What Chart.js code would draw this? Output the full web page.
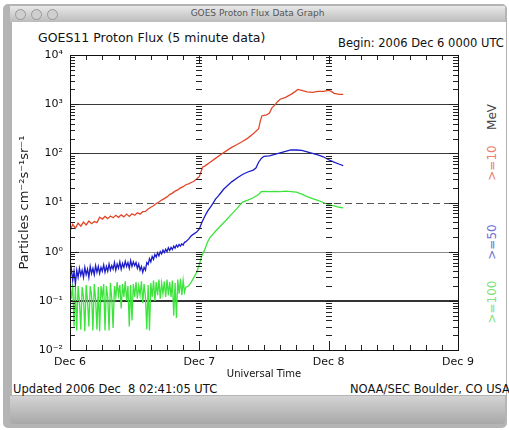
<!DOCTYPE html>
<html>
<head>
<meta charset="utf-8">
<title>GOES Proton Flux Data Graph</title>
<script src="https://cdn.jsdelivr.net/npm/chart.js@4.4.0/dist/chart.umd.min.js"></script>
<style>
html, body { margin: 0; padding: 0; background: #fff; }
#win { position: absolute; left: 0; top: 0; width: 509px; height: 430px; overflow: hidden; font-family: "DejaVu Sans", sans-serif; }
#frame { position: absolute; left: 3px; top: 4px; width: 504px; height: 424px; background: #b4b4b4; border-radius: 5px; }
#titlebar { position: absolute; left: 10px; top: 6px; width: 495px; height: 16px; background: linear-gradient(#e8e8e8, #bcbcbc); }
.dot { position: absolute; top: 3px; width: 9px; height: 9px; border-radius: 50%; background: #cfcfcf; border: 1px solid #9a9a9a; }
#titletext { position: absolute; left: 0; right: 0; top: 2px; text-align: center; font-size: 9px; color: #555; }
#content { position: absolute; left: 12px; top: 22px; width: 494px; height: 373px; background: #fff; }
#bottom { position: absolute; left: 10px; top: 396px; width: 495px; height: 28px; background: linear-gradient(#d4d4d4, #a8a8a8); border-radius: 0 0 4px 4px; }
.txt { position: absolute; white-space: pre; color: #111; }
.rot { position: absolute; white-space: pre; font-size: 12px; transform: translate(-50%, -50%) rotate(-90deg); }
canvas { position: absolute; left: 0; top: 0; }
</style>
</head>
<body>
<div id="win">
  <div id="frame"></div>
  <div id="titlebar">
    <div class="dot" style="left:5px"></div>
    <div class="dot" style="left:21px"></div>
    <div class="dot" style="left:37px"></div>
    <div id="titletext">GOES Proton Flux Data Graph</div>
  </div>
  <div id="content"></div>
  <div id="bottom"></div>

  <div class="txt" style="left:38px; top:30px; font-size:12.5px;">GOES11 Proton Flux (5 minute data)</div>
  <div class="txt" style="left:338px; top:36px; font-size:11.5px;">Begin: 2006 Dec 6 0000 UTC</div>
  <div class="txt" style="left:13px; top:382px; font-size:11.5px;">Updated 2006 Dec  8 02:41:05 UTC</div>
  <div class="txt" style="left:350px; top:382px; font-size:11.5px;">NOAA/SEC Boulder, CO USA</div>

  <div class="rot" style="left:492px; top:117px; color:#444;">MeV</div>
  <div class="rot" style="left:492px; top:163px; color:#e8806c;">&gt;=10</div>
  <div class="rot" style="left:492px; top:242px; color:#6f6fd6;">&gt;=50</div>
  <div class="rot" style="left:492px; top:302px; color:#7fe07f;">&gt;=100</div>

  <canvas id="goesChart" width="509" height="430"></canvas>
</div>

<script>
// axis labels
var dayHours = [0, 24, 48, 72];
var dayLabels = ['Dec 6', 'Dec 7', 'Dec 8', 'Dec 9'];
var yTickVals = [0.01, 0.1, 1, 10, 100, 1000, 10000];
var yTickLabels = ['10\u207B\u00B2', '10\u207B\u00B9', '10\u2070', '10\u00B9', '10\u00B2', '10\u00B3', '10\u2074'];

// hours after 2006 Dec 6 00:00 UTC
var noisyHours = [0, 0.25, 0.5, 0.75, 1, 1.25, 1.5, 1.75, 2, 2.25, 2.5, 2.75, 3, 3.25, 3.5, 3.75,
    4, 4.25, 4.5, 4.75, 5, 5.25, 5.5, 5.75, 6, 6.25, 6.5, 6.75, 7, 7.25, 7.5, 7.75,
    8, 8.25, 8.5, 8.75, 9, 9.25, 9.5, 9.75, 10, 10.25, 10.5, 10.75, 11, 11.25, 11.5, 11.75,
    12, 12.25, 12.5, 12.75, 13, 13.25, 13.5, 13.75, 14, 14.25, 14.5, 14.75, 15, 15.25, 15.5, 15.75,
    16, 16.25, 16.5, 16.75, 17, 17.25, 17.5, 17.75, 18, 18.25, 18.5, 18.75, 19, 19.25, 19.5, 19.75,
    20, 20.25, 20.5, 20.75, 21, 21.25];

// >=10 MeV
var redHours = [0, 0.5, 1, 1.5, 2, 2.5, 3, 3.5, 4, 4.5, 5, 5.5, 6, 6.5, 7, 7.5, 8, 8.5, 9, 9.5,
    10, 10.5, 11, 11.5, 12, 12.5, 13, 13.5, 14, 14.5, 15, 15.5, 16, 16.5, 17, 17.5, 18, 18.5, 19, 19.5,
    20, 20.5, 21, 21.5, 22, 22.5, 23, 23.5, 24, 24.3, 24.6, 25, 26, 27, 28, 29, 30, 31, 32, 33, 34, 35,
    35.3, 35.6, 36, 36.5, 37, 37.5, 38, 38.5, 39, 40, 41, 41.7, 42.3, 43, 44, 45, 46, 47, 48, 48.5, 49, 50, 50.7];
var redFlux = [2.6, 3.6, 3.0, 3.8, 3.3, 4.0, 3.5, 4.2, 3.7, 4.1, 3.9, 5.0, 4.6, 5.2, 4.7, 5.3, 4.9, 5.5, 5.0, 5.6,
    5.1, 5.8, 5.2, 5.9, 5.5, 6.2, 5.8, 6.5, 6.6, 7.4, 8.0, 8.6, 9.5, 10.2, 11.2, 12.0, 13.0, 14.5, 15.5, 17.0,
    18.0, 19.8, 21.0, 23.0, 24.0, 25.5, 27.0, 30.0, 34.0, 42, 52, 55, 66, 79, 95, 112, 132, 151, 174, 204, 251, 316,
    447, 575, 589, 603, 661, 851, 955, 1122, 1259, 1380, 1585, 1778, 1995, 1905, 1778, 1738, 1820, 1820, 1905, 1820, 1660, 1585, 1585];

// >=50 MeV
var blueNoisy = [0.3, 0.45, 0.26, 0.4, 0.22, 0.42, 0.3, 0.46, 0.33,
    0.42, 0.3, 0.48, 0.34, 0.44, 0.3, 0.5, 0.36,
    0.46, 0.34, 0.52, 0.38, 0.5, 0.36, 0.48, 0.4,
    0.54, 0.38, 0.5, 0.4, 0.56, 0.42, 0.52, 0.44,
    0.6, 0.42, 0.56, 0.46, 0.62, 0.44, 0.58, 0.48,
    0.64, 0.5, 0.6, 0.46, 0.66, 0.5, 0.62, 0.52,
    0.6, 0.46, 0.56, 0.42, 0.5, 0.38, 0.48, 0.42,
    0.6, 0.55, 0.72, 0.62, 0.8, 0.7, 0.88, 0.78,
    0.95, 0.82, 1.0, 0.9, 1.08, 0.96, 1.12, 1.0,
    1.2, 1.06, 1.22, 1.1, 1.3, 1.18, 1.36, 1.24,
    1.4, 1.3, 1.45, 1.36, 1.55];
var blueHours2 = [21.5, 22, 22.5, 23, 23.5, 24, 24.5, 25, 25.5, 26, 26.5, 27, 27.5, 28, 28.5, 29, 30, 31, 32, 33, 34,
    34.5, 35, 35.5, 36, 37, 38, 39, 40, 41, 42, 43, 44, 45, 46, 47, 48, 49, 50, 50.7];
var blueFlux2 = [1.6, 1.8, 2.1, 2.3, 2.5, 2.9, 4.0, 5.2, 6.6, 7.9, 9.5, 11.7, 13.5, 15.8, 18.6, 20.9, 26.3, 31.6, 37.2, 41.7, 45.7,
    50, 66, 79, 87, 89, 95, 102, 110, 117, 117, 115, 107, 100, 93, 85, 74, 66, 60, 56];

// >=100 MeV
var greenNoisy = [0.2, 0.11, 0.22, 0.03, 0.18, 0.025, 0.2, 0.1, 0.026, 0.19, 0.12, 0.024, 0.21, 0.1, 0.03, 0.2,
    0.13, 0.025, 0.22, 0.11, 0.026, 0.19, 0.024, 0.2, 0.12, 0.22, 0.025, 0.2, 0.12, 0.025, 0.23, 0.11,
    0.028, 0.2, 0.12, 0.24, 0.13, 0.21, 0.07, 0.22, 0.12, 0.25, 0.1, 0.2, 0.03, 0.21, 0.04, 0.22,
    0.12, 0.24, 0.11, 0.2, 0.13, 0.25, 0.09, 0.22, 0.12, 0.026, 0.21, 0.025, 0.23, 0.12, 0.26, 0.1,
    0.24, 0.13, 0.27, 0.11, 0.23, 0.14, 0.25, 0.12, 0.27, 0.13, 0.24, 0.12, 0.26, 0.05, 0.23, 0.045,
    0.27, 0.14, 0.28, 0.13, 0.26, 0.15];
var greenHours2 = [21.5, 22, 22.5, 23, 23.5, 24, 24.5, 25, 25.5, 26, 27, 28, 29, 30, 31, 32, 33, 34, 35, 35.5,
    36, 37, 38, 39, 40, 41, 42, 43, 44, 45, 46, 47, 48, 49, 50, 50.7];
var greenFlux2 = [0.19, 0.2, 0.24, 0.3, 0.38, 0.55, 0.85, 1.1, 1.55, 1.95, 2.6, 3.4, 4.4, 5.8, 7.6, 10.2, 11.2, 12.5, 14.5, 16.6,
    16.8, 16.6, 16.8, 16.6, 17.0, 16.6, 16.2, 14.8, 13.2, 12.0, 11.0, 10.0, 9.0, 8.5, 8.0, 7.8];

var FONT = '"DejaVu Sans", sans-serif';

// horizontal reference lines
var levelLines = [
    { value: 1000, color: '#3a3a3a', width: 1, dash: [] },
    { value: 100, color: '#3a3a3a', width: 1, dash: [] },
    { value: 10, color: '#555', width: 1, dash: [7, 4] },
    { value: 1, color: '#8a8a8a', width: 1, dash: [] },
    { value: 0.1, color: '#333', width: 2, dash: [] }
];

function toPoints(hours, flux) {
    return hours.map(function (h, i) { return { x: h, y: flux[i] }; });
}

var goesFrame = {
    id: 'goesFrame',
    beforeDatasetsDraw: function (chart) {
        var ctx = chart.ctx, a = chart.chartArea, y = chart.scales.y;
        ctx.save();
        levelLines.forEach(function (l) {
            var py = Math.round(y.getPixelForValue(l.value)) + (l.width % 2 ? 0.5 : 0);
            ctx.strokeStyle = l.color;
            ctx.lineWidth = l.width;
            ctx.setLineDash(l.dash);
            ctx.beginPath();
            ctx.moveTo(a.left, py);
            ctx.lineTo(a.right, py);
            ctx.stroke();
        });
        ctx.restore();
    },
    afterDatasetsDraw: function (chart) {
        var ctx = chart.ctx, a = chart.chartArea, x = chart.scales.x, y = chart.scales.y;
        ctx.save();
        ctx.strokeStyle = '#222';
        ctx.lineWidth = 1;
        ctx.beginPath();
        // log ticks on left/right axes and at the day lines
        for (var d = 0; d < yTickVals.length; d++) {
            for (var m = 1; m <= 9; m++) {
                if (d == yTickVals.length - 1 && m > 1) break;
                var py = Math.round(y.getPixelForValue(yTickVals[d] * m)) + 0.5;
                var len = m == 1 ? 9 : 5;
                ctx.moveTo(a.left, py); ctx.lineTo(a.left + len, py);
                ctx.moveTo(a.right, py); ctx.lineTo(a.right - len, py);
                [24, 48].forEach(function (h) {
                    var px = Math.round(x.getPixelForValue(h));
                    ctx.moveTo(px - 3, py); ctx.lineTo(px + 3, py);
                });
            }
        }
        // 3-hour ticks on top/bottom
        for (var h = 0; h <= 72; h += 3) {
            var px = Math.round(x.getPixelForValue(h)) + 0.5;
            var tl = h % 24 == 0 ? 9 : 5;
            ctx.moveTo(px, a.top); ctx.lineTo(px, a.top + tl);
            ctx.moveTo(px, a.bottom); ctx.lineTo(px, a.bottom - tl);
        }
        ctx.stroke();
        ctx.strokeStyle = '#111';
        ctx.strokeRect(Math.round(a.left) + 0.5, Math.round(a.top) + 0.5,
            Math.round(a.right - a.left), Math.round(a.bottom - a.top));
        ctx.restore();
    }
};

var ctx = document.getElementById('goesChart');
var goesChart = new Chart(ctx, {
    type: 'line',
    data: {
        datasets: [
            {
                label: '>=10 MeV',
                data: toPoints(redHours, redFlux),
                borderColor: 'rgb(226, 72, 40)',
                borderWidth: 1.3
            },
            {
                label: '>=50 MeV',
                data: toPoints(noisyHours.concat(blueHours2), blueNoisy.concat(blueFlux2)),
                borderColor: 'rgb(28, 28, 200)',
                borderWidth: 1.3
            },
            {
                label: '>=100 MeV',
                data: toPoints(noisyHours.concat(greenHours2), greenNoisy.concat(greenFlux2)),
                borderColor: 'rgb(60, 228, 60)',
                borderWidth: 1.3
            }
        ]
    },
    options: {
        responsive: false,
        animation: false,
        parsing: false,
        elements: { point: { radius: 0 }, line: { tension: 0 } },
        layout: { padding: { left: 14, right: 51, top: 55, bottom: 50 } },
        plugins: { legend: { display: false }, tooltip: { enabled: false } },
        scales: {
            x: {
                type: 'linear', min: 0, max: 72,
                grid: { display: false, drawTicks: false },
                border: { display: false },
                afterBuildTicks: function (s) { s.ticks = dayHours.map(function (v) { return { value: v }; }); },
                afterFit: function (s) { s.height = 30; },
                ticks: {
                    autoSkip: false, maxRotation: 0, padding: 6, color: '#111',
                    font: { family: FONT, size: 11 },
                    callback: function (v, i) { return dayLabels[i]; }
                },
                title: { display: true, text: 'Universal Time', color: '#111', padding: 0, font: { family: FONT, size: 10 } }
            },
            y: {
                type: 'logarithmic', min: 0.01, max: 10000,
                grid: { display: false, drawTicks: false },
                border: { display: false },
                afterBuildTicks: function (s) { s.ticks = yTickVals.map(function (v) { return { value: v }; }); },
                afterFit: function (s) { s.width = 56; },
                ticks: {
                    autoSkip: false, padding: 7, color: '#111',
                    font: { family: FONT, size: 11 },
                    callback: function (v, i) { return yTickLabels[i]; }
                },
                title: {
                    display: true, text: 'Particles cm\u207B\u00B2s\u207B\u00B9sr\u207B\u00B9', color: '#222',
                    padding: { top: 3, bottom: 0 }, font: { family: FONT, size: 13 }
                }
            }
        }
    },
    plugins: [goesFrame]
});
</script>
</body>
</html>
